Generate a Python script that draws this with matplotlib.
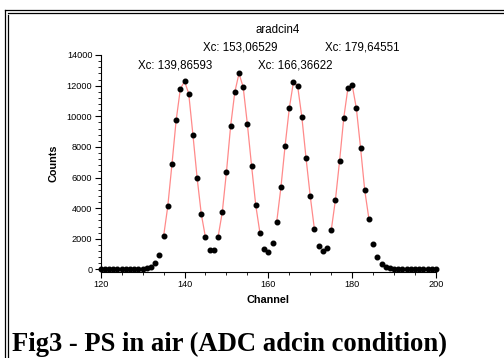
import matplotlib
matplotlib.use("Agg")
import matplotlib.pyplot as plt
from matplotlib.lines import Line2D
from matplotlib.ticker import MultipleLocator
import numpy as np

channels = list(range(120, 201))
counts = [0, 0, 0, 0, 0, 0, 0, 0, 0, 20, 50,          # 120-130
          90, 170, 410, 960, 2150, 4110, 6860, 9730, 11780, 12280,   # 131-140
          11480, 8800, 5990, 3610, 2090, 1260, 1240, 2110, 3720, 6350,  # 141-150
          9360, 11580, 12800, 11890, 9470, 6750, 4180, 2370, 1350, 1110,  # 151-160
          1720, 3110, 5360, 8080, 10520, 12260, 11950, 9930, 7250, 4770,  # 161-170
          2610, 1520, 1200, 1370, 2550, 4530, 7100, 9910, 11870, 12040,  # 171-180
          10520, 7930, 5160, 3290, 1650, 780, 370, 150, 65, 30,  # 181-190
          15, 0, 0, 0, 0, 0, 0, 0, 0, 0]  # 191-200

fit_ranges = [(135, 145), (148, 158), (162, 171), (175, 184)]
peak_labels = ["Xc: 139,86593", "Xc: 153,06529", "Xc: 166,36622", "Xc: 179,64551"]
label_pos = [(175, 66), (240, 47), (295, 66), (362, 48)]

W, H = 504, 358
fig = plt.figure(figsize=(W / 100, H / 100), dpi=100)
fig.patch.set_facecolor("white")

ax = fig.add_axes([100.7 / W, 1 - 272 / H, (436 - 100.7) / W, (272 - 55) / H])
ch = np.array(channels)
ct = np.array(counts)
for a, b in fit_ranges:
    m = (ch >= a) & (ch <= b)
    ax.plot(ch[m], ct[m], color="#ff8a8a", lw=0.9, zorder=2)
ax.plot(ch, ct, "o", color="black", ms=3.3, zorder=3, clip_on=False)

ax.set_xlim(120, 200)
ax.set_ylim(-170, 14000)
ax.xaxis.set_major_locator(MultipleLocator(20))
ax.xaxis.set_minor_locator(MultipleLocator(5))
ax.yaxis.set_major_locator(MultipleLocator(2000))
ax.yaxis.set_minor_locator(MultipleLocator(400))
for s in ["top", "right"]:
    ax.spines[s].set_visible(False)
ax.spines["left"].set_linewidth(0.8)
ax.spines["bottom"].set_linewidth(0.8)
ax.tick_params(which="major", length=4, width=0.8, labelsize=6.6, pad=2)
ax.tick_params(which="minor", length=2, width=0.6)
for lab in ax.get_xticklabels() + ax.get_yticklabels():
    lab.set_family("Liberation Sans")
ax.set_xlabel("Channel", fontsize=7.8, fontweight="bold", family="Liberation Sans", labelpad=4)
ax.set_ylabel("Counts", fontsize=7.8, fontweight="bold", family="Liberation Sans", labelpad=6)

fig.text(278 / W, 1 - 30 / H, "aradcin4", ha="center", va="center", fontsize=8.3, family="Liberation Sans")
for txt, (x, y) in zip(peak_labels, label_pos):
    fig.text(x / W, 1 - y / H, txt, ha="center", va="center", fontsize=8.3, family="Liberation Sans")

fig.text(12 / W, 1 - 351 / H, "Fig3 - PS in air (ADC adcin condition)", ha="left", va="baseline",
         fontsize=19.2, fontweight="bold", family="Liberation Serif")

# double frame (left and top)
for off in (5.3, 8.0):
    fig.add_artist(Line2D([off / W, off / W], [0, 1 - (off * 1.9) / H], transform=fig.transFigure, color="black", lw=0.9))
for off, xo in ((10.0, 5.3), (12.7, 8.0)):
    fig.add_artist(Line2D([xo / W, 1], [1 - off / H, 1 - off / H], transform=fig.transFigure, color="black", lw=0.9))

fig.savefig("out.png", dpi=100)
